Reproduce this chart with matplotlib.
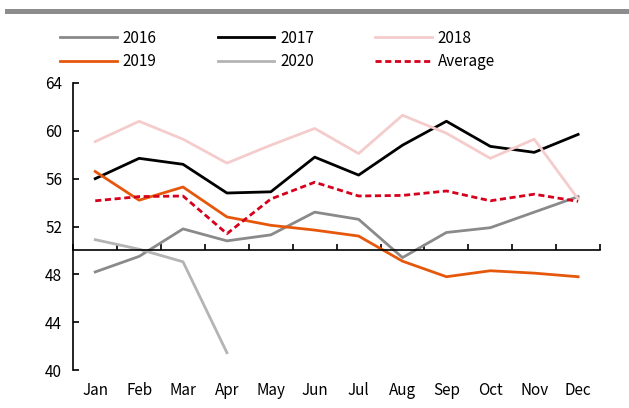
import numpy as np
import matplotlib
matplotlib.use("Agg")
import matplotlib.pyplot as plt
from matplotlib.lines import Line2D
import matplotlib.transforms as mtransforms

plt.rcParams['font.family'] = ['Noto Sans CJK SC', 'DejaVu Sans']

months = ['Jan', 'Feb', 'Mar', 'Apr', 'May', 'Jun', 'Jul', 'Aug', 'Sep', 'Oct', 'Nov', 'Dec']
y2016 = [48.2, 49.5, 51.8, 50.8, 51.3, 53.2, 52.6, 49.4, 51.5, 51.9, 53.2, 54.5]
y2017 = [56.0, 57.7, 57.2, 54.8, 54.9, 57.8, 56.3, 58.8, 60.8, 58.7, 58.2, 59.7]
y2018 = [59.1, 60.8, 59.3, 57.3, 58.8, 60.2, 58.1, 61.3, 59.8, 57.7, 59.3, 54.3]
y2019 = [56.6, 54.2, 55.3, 52.8, 52.1, 51.7, 51.2, 49.1, 47.8, 48.3, 48.1, 47.8]
y2020 = [50.9, 50.1, 49.05, 41.45]
avg = [54.15, 54.5, 54.55, 51.4, 54.3, 55.7, 54.55, 54.6, 54.97, 54.15, 54.7, 54.1]
yticks = [40, 44, 48, 52, 56, 60, 64]

fig = plt.figure(figsize=(6.29, 4.08), dpi=100)
ax = fig.add_axes([0.1165, 0.0931, 0.8375, 0.7035])

x = np.arange(len(months))
lw = 2.0
h16, = ax.plot(x, y2016, color='#8a8a8a', lw=lw, label='2016')
h17, = ax.plot(x, y2017, color='#000000', lw=lw, label='2017')
h18, = ax.plot(x, y2018, color='#f5cccc', lw=lw, label='2018')
h19, = ax.plot(x, y2019, color='#e5580c', lw=lw, label='2019')
h20, = ax.plot(x[:len(y2020)], y2020, color='#b4b4b4', lw=lw, label='2020')
hav, = ax.plot(x, avg, color='#d6001c', lw=lw, ls=(0, (2.2, 1.3)), label='Average')

ax.set_xlim(-0.5, 11.5)
ax.set_ylim(40, 64)
ax.set_yticks(yticks)
ax.tick_params(axis='y', direction='in', length=4, width=1.2, labelsize=11, pad=8)
ax.set_xticks(np.arange(-0.5, 12, 1))
ax.tick_params(axis='x', direction='in', length=4, width=1.2, labelbottom=False)
ax.spines['top'].set_visible(False)
ax.spines['right'].set_visible(False)
ax.spines['left'].set_linewidth(1.2)
ax.spines['bottom'].set_linewidth(1.2)
ax.spines['bottom'].set_position(('data', 50))

trans = mtransforms.blended_transform_factory(ax.transData, ax.transAxes)
for i, m in enumerate(months):
    ax.text(i, -0.07, m, transform=trans, ha='center', va='center', fontsize=11)

# legend fills column by column, so order handles to read row by row
handles = [h16, h19, h17, h20, h18, hav]
fig.legend(handles, [h.get_label() for h in handles],
           loc='center left', bbox_to_anchor=(60 / 629, 1 - 50 / 408), ncol=3,
           frameon=False, fontsize=11, handlelength=3.7, handletextpad=0.4,
           columnspacing=4.0, labelspacing=0.45, borderpad=0, borderaxespad=0)

# gray band at the top
fig.add_artist(Line2D([7 / 629, 1], [1 - 10.5 / 408, 1 - 10.5 / 408],
                      transform=fig.transFigure, color='#8c8c8c', lw=3.6))

fig.savefig('out.png', dpi=100)
